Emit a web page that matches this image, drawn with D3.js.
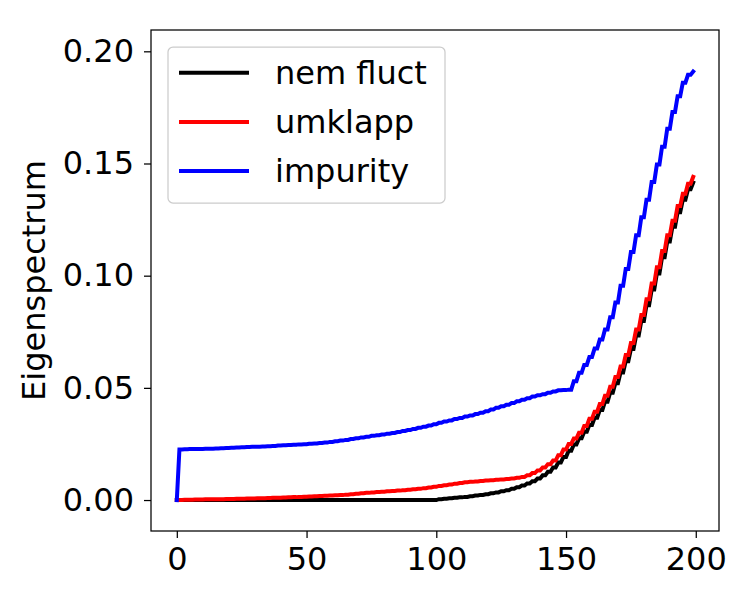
<!DOCTYPE html>
<html lang="en">
<head>
<meta charset="UTF-8">
<title>Eigenspectrum</title>
<style>
    body, html { margin: 0; padding: 0; background: #fff; }
    svg { display: block; }
    text { font-family: "DejaVu Sans", sans-serif; fill: #000; }
</style>
</head>
<body>
<script src="https://d3js.org/d3.v7.min.js"></script>
<script>
// eigenvalues, sorted (index 0..199)
var nemFluct = [
    0,0,0,0,0,0,0,0,0,0,
    0,0,0,0,0,0,0,0,0,0,
    0,0,0,0,0,0,0,0,0,0,
    0,0,0,0,0,0,0,0,0,0,
    0,0,0,0,0,0,0,0,0,0,
    0,0,0,0,0,0,0,0,0,0,
    0,0,0,0,0,0,0,0,0,0,
    0,0,0,0,0,0,0,0,0,0,
    0,0,0,0,0,0,0,0,0,0,
    0,0,0,0,0,0,0,0,0,0,
    0, .0004, .0004, .0006, .0006, .0008, .0008, .0010, .0010, .0012,
    .0012, .0014, .0014, .0017, .0017, .0020, .0020, .0023, .0023, .0026,
    .0026, .0030, .0030, .0034, .0034, .0039, .0039, .0044, .0044, .0050,
    .0050, .0057, .0057, .0065, .0065, .0074, .0074, .0084, .0084, .0096,
    .0096, .0110, .0110, .0126, .0126, .0145, .0145, .0167, .0167, .0192,
    .0192, .0220, .0220, .0248, .0248, .0275, .0275, .0304, .0304, .0335,
    .0335, .0367, .0367, .0401, .0401, .0438, .0438, .0478, .0478, .0521,
    .0521, .0568, .0568, .0619, .0619, .0673, .0673, .0733, .0733, .0798,
    .0798, .0868, .0868, .0938, .0938, .1010, .1010, .1082, .1082, .1152,
    .1152, .1218, .1218, .1283, .1283, .1338, .1338, .1385, .1385, .1415
];

var umklapp = [
    0, 0, 0, .0001, .0001, .0001, .0001, .0002, .0002, .0002,
    .0002, .0003, .0003, .0003, .0003, .0004, .0004, .0004, .0004, .0005,
    .0005, .0005, .0005, .0006, .0006, .0006, .0006, .0007, .0007, .0007,
    .0007, .0008, .0008, .0008, .0008, .0009, .0009, .0010, .0010, .0010,
    .0010, .0011, .0011, .0012, .0012, .0013, .0013, .0014, .0014, .0015,
    .0015, .0016, .0016, .0017, .0017, .0018, .0018, .0019, .0019, .0020,
    .0020, .0021, .0021, .0022, .0022, .0024, .0024, .0026, .0026, .0028,
    .0028, .0030, .0030, .0032, .0032, .0034, .0034, .0036, .0036, .0037,
    .0037, .0039, .0039, .0040, .0040, .0042, .0042, .0044, .0044, .0046,
    .0046, .0048, .0048, .0050, .0050, .0053, .0053, .0056, .0056, .0059,
    .0059, .0063, .0063, .0066, .0066, .0069, .0069, .0073, .0073, .0076,
    .0076, .0079, .0079, .0081, .0081, .0083, .0083, .0085, .0085, .0087,
    .0087, .0088, .0088, .0090, .0090, .0092, .0092, .0094, .0094, .0096,
    .0096, .0099, .0099, .0103, .0103, .0110, .0110, .0120, .0120, .0132,
    .0132, .0145, .0145, .0160, .0160, .0176, .0176, .0200, .0200, .0225,
    .0225, .0250, .0250, .0274, .0274, .0300, .0300, .0330, .0330, .0362,
    .0362, .0394, .0394, .0428, .0428, .0465, .0465, .0505, .0505, .0548,
    .0548, .0595, .0595, .0646, .0646, .0700, .0700, .0760, .0760, .0825,
    .0825, .0895, .0895, .0965, .0965, .1038, .1038, .1110, .1110, .1180,
    .1180, .1245, .1245, .1310, .1310, .1365, .1365, .1410, .1410, .1440
];

var impurity = [
    0, .0225, .0225, .0226, .0226, .0227, .0227, .0227, .0227, .0228,
    .0228, .0229, .0229, .0229, .0229, .0230, .0230, .0231, .0231, .0232,
    .0232, .0233, .0233, .0234, .0234, .0235, .0235, .0236, .0236, .0237,
    .0237, .0238, .0238, .0239, .0239, .0240, .0240, .0241, .0241, .0243,
    .0243, .0244, .0244, .0245, .0245, .0246, .0246, .0248, .0248, .0249,
    .0249, .0251, .0251, .0252, .0252, .0254, .0254, .0256, .0256, .0259,
    .0259, .0262, .0262, .0265, .0265, .0268, .0268, .0272, .0272, .0275,
    .0275, .0279, .0279, .0282, .0282, .0286, .0286, .0289, .0289, .0292,
    .0292, .0296, .0296, .0299, .0299, .0303, .0303, .0308, .0308, .0312,
    .0312, .0317, .0317, .0322, .0322, .0327, .0327, .0332, .0332, .0338,
    .0338, .0344, .0344, .0350, .0350, .0355, .0355, .0361, .0361, .0366,
    .0366, .0372, .0372, .0377, .0377, .0383, .0383, .0389, .0389, .0396,
    .0396, .0403, .0403, .0411, .0411, .0418, .0418, .0425, .0425, .0432,
    .0432, .0440, .0440, .0447, .0447, .0454, .0454, .0461, .0461, .0467,
    .0467, .0472, .0472, .0478, .0478, .0484, .0484, .0489, .0489, .0490,
    .0490, .0492, .0492, .0530, .0530, .0567, .0567, .0602, .0602, .0638,
    .0638, .0675, .0675, .0715, .0715, .0760, .0760, .0815, .0815, .0880,
    .0880, .0955, .0955, .1030, .1030, .1105, .1105, .1180, .1180, .1260,
    .1260, .1338, .1338, .1418, .1418, .1495, .1495, .1575, .1575, .1655,
    .1655, .1730, .1730, .1800, .1800, .1860, .1860, .1895, .1895, .1910
];

var seriesNames = ["nem fluct", "umklapp", "impurity"];
var seriesColors = ["#000000", "#ff0000", "#0000ff"];
var xTicks = [0, 50, 100, 150, 200];
var yTicks = [0, 0.05, 0.10, 0.15, 0.20];

var width = 750, height = 600;
var plotLeft = 151, plotRight = 719, plotTop = 30, plotBottom = 531;

var svg = d3.select("body").append("svg")
    .attr("width", width)
    .attr("height", height);

svg.append("rect").attr("width", width).attr("height", height).attr("fill", "#fff");

var x = d3.scaleLinear().domain([-9.95, 208.95]).range([plotLeft, plotRight]);
var y = d3.scaleLinear().domain([-0.0138, 0.2095]).range([plotBottom, plotTop]);

// axes
var xAxis = svg.append("g")
    .attr("transform", "translate(0," + plotBottom + ")")
    .call(d3.axisBottom(x).tickValues(xTicks).tickSize(7).tickPadding(9).tickFormat(d3.format("d")));
var yAxis = svg.append("g")
    .attr("transform", "translate(" + plotLeft + ",0)")
    .call(d3.axisLeft(y).tickValues(yTicks).tickSize(7).tickPadding(10).tickFormat(d3.format(".2f")));

[xAxis, yAxis].forEach(function(g) {
    g.attr("font-size", null).attr("font-family", null);
    g.select(".domain").remove();
    g.selectAll(".tick line").attr("stroke", "#000").attr("stroke-width", 1.25);
    g.selectAll(".tick text").attr("font-size", 32).attr("fill", "#000");
});

// frame
svg.append("rect")
    .attr("x", plotLeft).attr("y", plotTop)
    .attr("width", plotRight - plotLeft).attr("height", plotBottom - plotTop)
    .attr("fill", "none").attr("stroke", "#000").attr("stroke-width", 1.25);

// y label
svg.append("text")
    .attr("transform", "translate(36," + ((plotTop + plotBottom) / 2) + ") rotate(-90)")
    .attr("text-anchor", "middle")
    .attr("dominant-baseline", "middle")
    .attr("font-size", 32)
    .text("Eigenspectrum");

// lines
var line = d3.line()
    .x(function(d, i) { return x(i); })
    .y(function(d) { return y(d); });

[nemFluct, umklapp, impurity].forEach(function(s, k) {
    svg.append("path")
        .datum(s)
        .attr("d", line)
        .attr("fill", "none")
        .attr("stroke", seriesColors[k])
        .attr("stroke-width", 4)
        .attr("stroke-linejoin", "miter")
        .attr("stroke-linecap", "square");
});

// legend
var lg = svg.append("g");
lg.append("rect")
    .attr("x", 168).attr("y", 47)
    .attr("width", 277).attr("height", 156)
    .attr("rx", 5).attr("ry", 5)
    .attr("fill", "#fff").attr("fill-opacity", 0.8)
    .attr("stroke", "#cccccc").attr("stroke-width", 1.25);

seriesNames.forEach(function(name, k) {
    var ly = 72.7 + k * 49.2;
    lg.append("line")
        .attr("x1", 179).attr("x2", 249)
        .attr("y1", ly).attr("y2", ly)
        .attr("stroke", seriesColors[k])
        .attr("stroke-width", 4);
    lg.append("text")
        .attr("x", 275).attr("y", ly)
        .attr("dominant-baseline", "central")
        .attr("font-size", 32)
        .text(name);
});
</script>
</body>
</html>
